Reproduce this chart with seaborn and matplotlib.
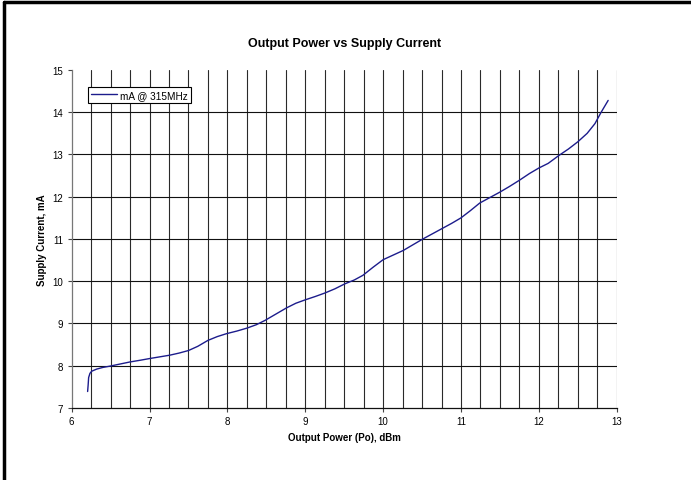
import numpy as np
import pandas as pd
import matplotlib
matplotlib.use("Agg")
import matplotlib.pyplot as plt
import seaborn as sns

# Output power (dBm) and supply current (mA)
power_dbm = [6.205, 6.212, 6.218, 6.235, 6.257, 6.32, 6.40, 6.49, 6.62, 6.75, 6.88,
             7.00, 7.13, 7.26, 7.38, 7.50, 7.62, 7.75, 7.87, 7.99, 8.12, 8.25,
             8.37, 8.48, 8.62, 8.76, 8.88, 9.00, 9.13, 9.25, 9.38, 9.51, 9.63,
             9.74, 9.87, 10.00, 10.13, 10.26, 10.38, 10.51, 10.63, 10.75, 10.88,
             11.00, 11.12, 11.24, 11.37, 11.50, 11.62, 11.75, 11.88, 12.00, 12.12,
             12.26, 12.38, 12.50, 12.62, 12.72, 12.80, 12.89]
current_ma = [7.39, 7.55, 7.72, 7.82, 7.87, 7.92, 7.96, 7.99, 8.04, 8.09, 8.13,
              8.17, 8.21, 8.25, 8.30, 8.36, 8.46, 8.60, 8.69, 8.76, 8.82, 8.89,
              8.97, 9.07, 9.22, 9.37, 9.48, 9.56, 9.64, 9.72, 9.82, 9.94, 10.03,
              10.14, 10.33, 10.51, 10.62, 10.73, 10.86, 11.00, 11.12, 11.24, 11.37,
              11.50, 11.67, 11.85, 11.98, 12.11, 12.24, 12.39, 12.55, 12.68, 12.79,
              12.98, 13.13, 13.30, 13.50, 13.73, 14.00, 14.28]

df = pd.DataFrame({"power": power_dbm, "current": current_ma})

sns.set_style("white")
plt.rcParams["font.family"] = ["Liberation Sans", "DejaVu Sans"]
plt.rcParams.update({"text.color": "black", "axes.labelcolor": "black",
                     "xtick.color": "black", "ytick.color": "black"})

fig = plt.figure(figsize=(6.91, 4.81), dpi=100)
ax = fig.add_axes([0.1037, 0.1497, 0.7888, 0.7027])

# grid: vertical every 0.25 dBm, horizontal every 1 mA
for gx in np.arange(6.25, 13.01, 0.25):
    ax.axvline(gx, color="#2a2a2a", lw=0.8, zorder=1)
for gy in range(8, 15):
    ax.axhline(gy, color="#111111", lw=0.8, zorder=1)

sns.lineplot(data=df, x="power", y="current", sort=False, color="#1c1c8c",
             lw=1.0, label="mA @ 315MHz", ax=ax, zorder=3)

ax.set_xlim(6, 13)
ax.set_ylim(7, 15)
ax.set_xticks(range(6, 14))
ax.set_yticks(range(7, 16))
ax.tick_params(axis="both", direction="out", length=3, width=0.8,
               labelsize=7, pad=3, left=True, bottom=True)
ax.tick_params(axis="both", color="#444444")

for side in ["top", "right"]:
    ax.spines[side].set_visible(False)
ax.spines["left"].set_color("#777777")
ax.spines["bottom"].set_color("#111111")
ax.spines["left"].set_linewidth(0.9)
ax.spines["bottom"].set_linewidth(0.9)

ax.set_title("Output Power vs Supply Current", fontsize=9, fontweight="bold", pad=17)
ax.set_xlabel("Output Power (Po), dBm", fontsize=7, fontweight="bold", labelpad=4)
ax.set_ylabel("Supply Current, mA", fontsize=7, fontweight="bold", labelpad=4)

leg = ax.legend(loc="upper left", bbox_to_anchor=(0.03, 0.95), fontsize=7.2,
                frameon=True, fancybox=False, framealpha=1, borderpad=0.3,
                handlelength=2.6, handletextpad=0.3, borderaxespad=0)
leg.get_frame().set_edgecolor("black")
leg.get_frame().set_linewidth(0.8)

# chart frame (only left and top edges visible in the reference)
fig.add_artist(plt.Line2D([0.0065, 0.0065], [0, 0.994], transform=fig.transFigure,
                          color="black", lw=2.5))
fig.add_artist(plt.Line2D([0.0065, 1], [0.994, 0.994], transform=fig.transFigure,
                          color="black", lw=2.5))

fig.savefig("out.png", dpi=100)
